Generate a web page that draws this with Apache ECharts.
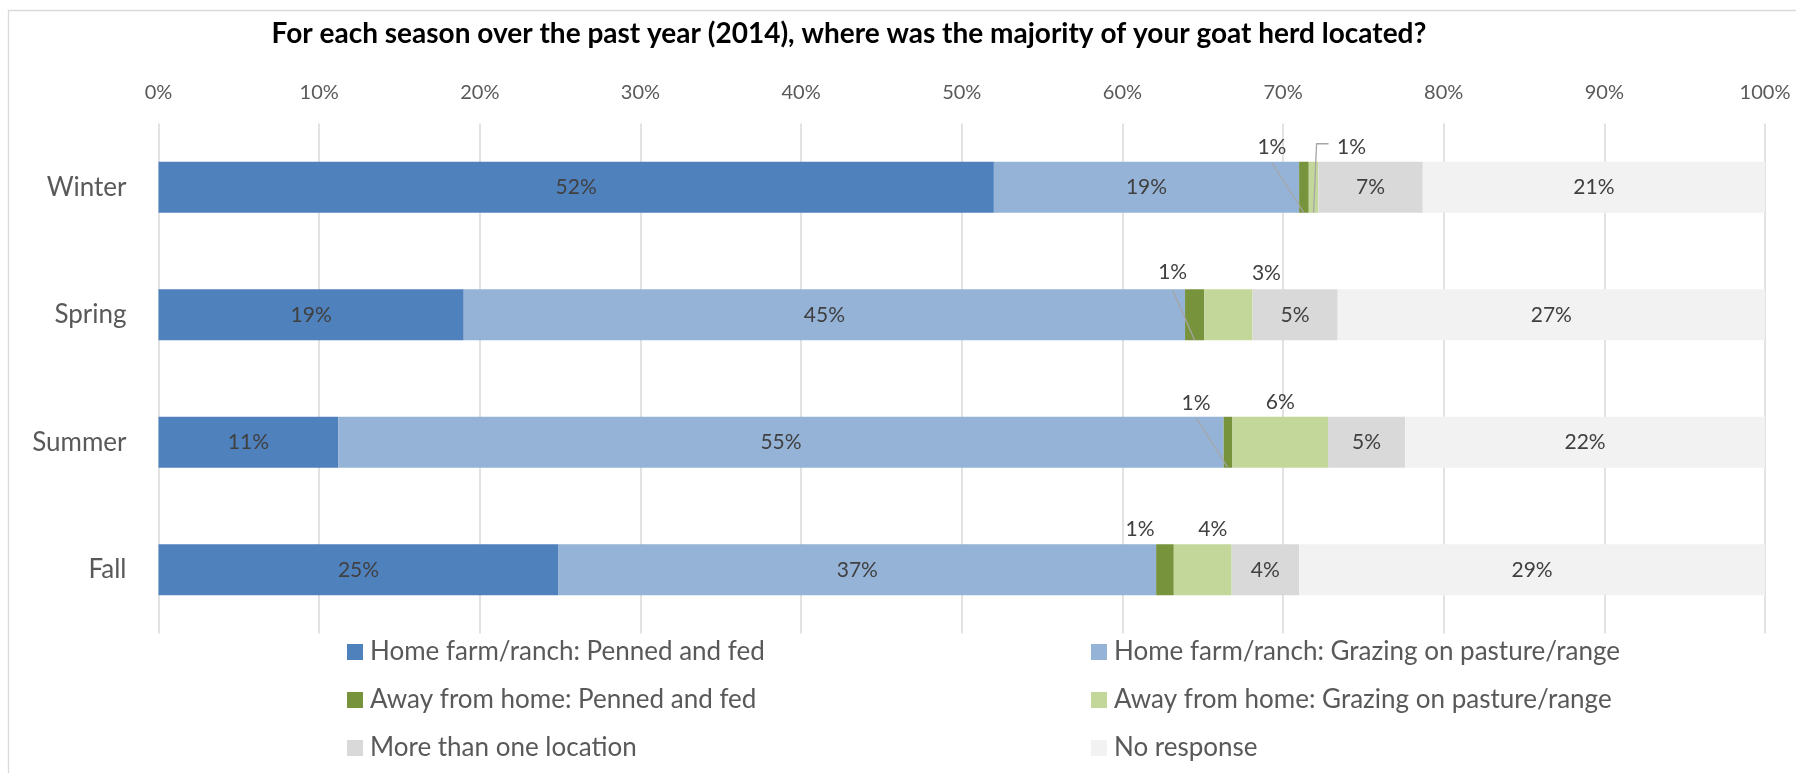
<!DOCTYPE html>
<html>
<head>
<meta charset="utf-8">
<script src="https://cdn.jsdelivr.net/npm/echarts@6/dist/echarts.min.js"></script>
<style>
html,body{margin:0;padding:0;background:#fff;}
#chart{width:1796px;height:773px;}
</style>
</head>
<body>
<div id="chart"></div>
<script>
// ---- data ----
const titleText = 'For each season over the past year (2014), where was the majority of your goat herd located?';
const categories = ['Winter', 'Spring', 'Summer', 'Fall'];
const seriesNames = [
  'Home farm/ranch: Penned and fed',
  'Home farm/ranch: Grazing on pasture/range',
  'Away from home: Penned and fed',
  'Away from home: Grazing on pasture/range',
  'More than one location',
  'No response'
];
const homePenned  = [52.0, 19.0, 11.2, 24.9];
const homeGrazing = [19.0, 44.9, 55.1, 37.2];
const awayPenned  = [0.6, 1.2, 0.55, 1.1];
const awayGrazing = [0.6, 3.0, 5.95, 3.6];
const moreThanOne = [6.5, 5.3, 4.8, 4.2];
const noResponse  = [21.3, 26.6, 22.4, 29.0];
const xTicks = [0, 10, 20, 30, 40, 50, 60, 70, 80, 90, 100];

// ---- style / layout ----
const colors = ['#4f81bd', '#95b3d7', '#77933c', '#c4d79b', '#d9d9d9', '#f2f2f2'];
const FONT = 'Lato, "Open Sans", sans-serif';
const BAR_W = 51;
// callout placement for the thin segments (offset from segment centre / bar top)
const calloutLayout = [
  // away penned
  [{dx: -32, dy: -15, line: 'straight'}, {dx: -22, dy: -17.5, line: 'straight'}, {dx: -32, dy: -14, line: 'straight'}, {dx: -25, dy: -15, line: null}],
  // away grazing
  [{dx: 38, dy: -15, line: 'elbow'}, {dx: 38, dy: -16.5, line: null}, {dx: 0, dy: -15, line: null}, {dx: 10, dy: -15, line: null}]
];

const seriesData = [homePenned, homeGrazing, awayPenned, awayGrazing, moreThanOne, noResponse];
const fmt = v => Math.round(v) + '%';

const barSeries = seriesData.map((arr, si) => ({
  name: seriesNames[si],
  type: 'bar',
  stack: 'total',
  barWidth: BAR_W,
  itemStyle: {color: colors[si]},
  label: {
    show: si !== 2 && si !== 3,
    position: 'inside',
    color: '#404040',
    fontFamily: FONT,
    fontSize: 21,
    formatter: p => fmt(p.value)
  },
  emphasis: {disabled: true},
  data: arr
}));

// callout items for the thin segments, built from the arrays
const calloutItems = [];
[2, 3].forEach((si, k) => {
  categories.forEach((c, ci) => {
    let start = 0;
    for (let j = 0; j < si; j++) start += seriesData[j][ci];
    calloutItems.push({start: start, value: seriesData[si][ci], cat: ci, kind: k});
  });
});

const calloutSeries = {
  type: 'custom',
  coordinateSystem: 'cartesian2d',
  z: 5,
  silent: true,
  encode: {x: 0, y: 1},
  data: calloutItems.map(d => [d.start, d.cat]),
  renderItem: function (params, api) {
    const d = calloutItems[params.dataIndex];
    const p0 = api.coord([d.start, d.cat]);
    const p1 = api.coord([d.start + d.value, d.cat]);
    const cx = (p0[0] + p1[0]) / 2;
    const top = p0[1] - BAR_W / 2;
    const bottom = p0[1] + BAR_W / 2;
    const lay = calloutLayout[d.kind][d.cat];
    const lx = cx + lay.dx;
    const ly = top + lay.dy;
    const children = [];
    if (lay.line === 'straight') {
      children.push({type: 'polyline', shape: {points: [[lx, top + 1], [cx, bottom]]},
        style: {stroke: '#a6a6a6', lineWidth: 1.3, fill: null}});
    } else if (lay.line === 'elbow') {
      children.push({type: 'polyline', shape: {points: [[lx - 23, ly - 3], [cx + 3, ly - 3], [cx, bottom]]},
        style: {stroke: '#a6a6a6', lineWidth: 1.3, fill: null}});
    }
    children.push({type: 'text', style: {text: fmt(d.value), x: lx, y: ly, align: 'center', verticalAlign: 'middle',
      fill: '#404040', font: '21px ' + FONT}});
    return {type: 'group', children: children};
  }
};

const legendCommon = {
  orient: 'vertical',
  top: 632,
  icon: 'rect',
  itemWidth: 16,
  itemHeight: 16,
  itemGap: 18,
  selectedMode: false,
  textStyle: {color: '#595959', fontFamily: FONT, fontSize: 26, lineHeight: 30, padding: [0, 0, 0, 2]}
};

const chart = echarts.init(document.getElementById('chart'), null, {renderer: 'canvas'});
chart.setOption({
  animation: false,
  backgroundColor: '#ffffff',
  graphic: [
    {type: 'rect', z: -10, silent: true, shape: {x: 8.5, y: 10.5, width: 1800, height: 800},
      style: {fill: 'none', stroke: '#d9d9d9', lineWidth: 1.3}},
    {type: 'text', silent: true, style: {text: titleText, x: 849, y: 34, align: 'center', verticalAlign: 'middle',
      fill: '#000000', font: 'bold 28px ' + FONT}}
  ],
  grid: {left: 158.5, right: 31, top: 123.5, bottom: 139.5, containLabel: false},
  xAxis: {
    type: 'value', position: 'top', min: 0, max: 100, interval: 10,
    axisLine: {show: false}, axisTick: {show: false},
    axisLabel: {color: '#595959', fontFamily: FONT, fontSize: 20, margin: 21,
      formatter: v => (xTicks.indexOf(v) >= 0 ? v + '%' : '')},
    splitLine: {show: true, lineStyle: {color: '#d9d9d9', width: 1.5}}
  },
  yAxis: {
    type: 'category', data: categories, inverse: true,
    axisLine: {show: false}, axisTick: {show: false},
    axisLabel: {color: '#595959', fontFamily: FONT, fontSize: 26, margin: 32},
    splitLine: {show: false}
  },
  legend: [
    Object.assign({}, legendCommon, {left: 342, data: [seriesNames[0], seriesNames[2], seriesNames[4]]}),
    Object.assign({}, legendCommon, {left: 1086, data: [seriesNames[1], seriesNames[3], seriesNames[5]]})
  ],
  series: barSeries.concat([calloutSeries])
});
</script>
</body>
</html>
